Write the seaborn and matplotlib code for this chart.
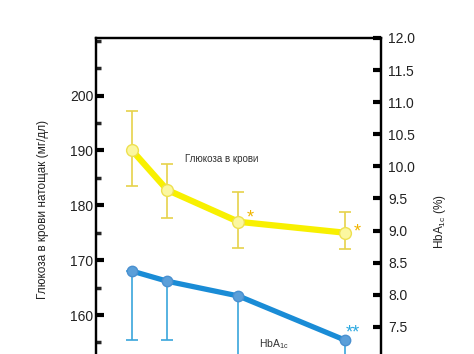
import numpy as np
import pandas as pd
import matplotlib
matplotlib.use("Agg")
import matplotlib.pyplot as plt
import seaborn as sns
from matplotlib.ticker import MultipleLocator

sns.set_style("white")
plt.rcParams["font.family"] = ["Liberation Sans", "DejaVu Sans"]

# время наблюдения (мес.)
months = [0, 3, 9, 18]

# глюкоза в крови натощак, мг/дл
glucose = [190.1, 182.8, 177.0, 175.0]
glucose_err_low = [6.6, 5.1, 4.8, 3.0]
glucose_err_high = [7.1, 4.7, 5.4, 3.8]

# HbA1c, %
hba1c = [8.37, 8.21, 7.98, 7.29]
hba1c_err_low = [1.08, 0.92, 1.0, 0.8]

left_ticks = [160, 170, 180, 190, 200]
right_ticks = [7.5, 8.0, 8.5, 9.0, 9.5, 10.0, 10.5, 11.0, 11.5, 12.0]

df_glu = pd.DataFrame({"month": months, "value": glucose})
df_hba = pd.DataFrame({"month": months, "value": hba1c})

fig = plt.figure(figsize=(4.74, 3.54), dpi=100)
ax = fig.add_axes([0.2025, 0.0, 0.6013, 0.8927])
ax2 = ax.twinx()

# glucose (left axis)
ax.errorbar(months, glucose, yerr=[glucose_err_low, glucose_err_high], fmt="none",
            ecolor="#e6d24a", elinewidth=1.2, capsize=4, capthick=1.2, zorder=2)
sns.lineplot(data=df_glu, x="month", y="value", ax=ax, color="#f8f000", linewidth=4.5,
             marker="o", markersize=8.5, markerfacecolor="#fbf7a0",
             markeredgecolor="#eee050", markeredgewidth=1.0, zorder=3)

# HbA1c (right axis)
ax2.errorbar(months, hba1c, yerr=[hba1c_err_low, [0, 0, 0, 0]], fmt="none",
             ecolor="#3aa6dc", elinewidth=1.2, capsize=4, capthick=1.2, zorder=2)
sns.lineplot(data=df_hba, x="month", y="value", ax=ax2, color="#1a8cd6", linewidth=3.8,
             marker="o", markersize=7.5, markerfacecolor="#5b9fd9",
             markeredgecolor="#4a90d0", markeredgewidth=1.0, zorder=3)

ax.set_xlim(-3, 21)
ax.set_ylim(152.9, 210.5)
ax2.set_ylim(7.076, 11.97)

ax.set_yticks(left_ticks)
ax.yaxis.set_minor_locator(MultipleLocator(5))
ax.tick_params(axis="y", which="major", direction="in", length=6, width=3,
               labelsize=10, colors="black", pad=2, left=True)
ax.tick_params(axis="y", which="minor", direction="in", length=3.5, width=2.5, left=True)
ax.set_xticks([])
ax.set_xlabel("")

ax2.set_yticks(right_ticks)
ax2.set_yticklabels([f"{t:.1f}" for t in right_ticks])
ax2.tick_params(axis="y", which="major", direction="in", length=6, width=3,
                labelsize=10, colors="black", pad=5, right=True)
ax2.set_xticks([])

for a in (ax, ax2):
    a.spines["bottom"].set_visible(False)
    for s in ("left", "right", "top"):
        a.spines[s].set_linewidth(1.6)
        a.spines[s].set_color("black")
    a.tick_params(axis="y", labelcolor="#222222")

ax.set_ylabel("Глюкоза в крови натощак (мг/дл)", fontsize=8.5, color="#222222")
ax.yaxis.set_label_coords(-0.165, 0.456)
ax2.set_ylabel(r"HbA$_{\mathregular{1c}}$ (%)", fontsize=8.5, color="#222222")
ax2.yaxis.set_label_coords(1.18, 0.42)

ax.text(4.5, 188.5, "Глюкоза в крови", fontsize=7, color="#333333", va="center")
ax2.text(10.75, 7.23, r"HbA$_{\mathregular{1c}}$", fontsize=7.5, color="#333333", va="center")

ax.text(10.0, 177.7, "*", fontsize=13, color="#f0b400", ha="center", va="center")
ax.text(19.0, 175.1, "*", fontsize=13, color="#f0b400", ha="center", va="center")
ax2.text(18.6, 7.40, "**", fontsize=13, color="#2aa8e0", ha="center", va="center")

fig.savefig("out.png", dpi=100)
